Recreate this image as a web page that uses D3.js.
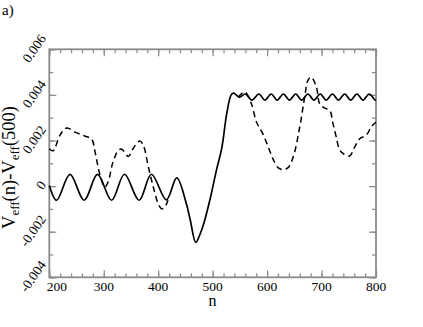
<!DOCTYPE html>
<html>
<head>
<meta charset="utf-8">
<script src="https://cdn.jsdelivr.net/npm/d3@7/dist/d3.min.js"></script>
<style>
body { margin: 0; background: #fff; }
svg { display: block; }
</style>
</head>
<body>
<div id="chart"></div>
<script>
// values
var solidN = [200, 213.5, 238, 264, 288.5, 314.5, 338, 365, 387.5, 415, 434, 452, 459, 469, 477, 483, 495, 507, 517, 526, 534,
    538.5, 549, 560, 572, 585, 596, 607.5, 618.5, 630, 641, 652.5, 663.5, 675, 686, 697.5, 708.5, 720, 731, 742.5, 753.5, 765, 776, 787.5, 798.5, 800];
var solidV = [0.00003, -0.00062, 0.00051, -0.00062, 0.00051, -0.00062, 0.00052, -0.00062, 0.00052, -0.0006, 0.00036, -0.0008, -0.0015, -0.00247, -0.0021, -0.0017, -0.0006, 0.0007, 0.0017, 0.0032, 0.004,
    0.00408, 0.0039, 0.00404, 0.00377, 0.00404, 0.00377, 0.00404, 0.00377, 0.00404, 0.00377, 0.00404, 0.00377, 0.00404, 0.00377, 0.00404, 0.00377, 0.00404, 0.00377, 0.00404, 0.00377, 0.00404, 0.00377, 0.00404, 0.00377, 0.00378];

var dashN = [200, 207, 220, 232, 247, 265, 278, 284, 293, 302, 308, 317, 327, 333, 345, 354, 366, 372.5, 382, 391, 400, 406, 412, 418,
    480,
    547, 559, 571, 580.5, 592, 602, 611, 620, 629, 638.5, 648, 660, 669, 675, 681, 690.5, 697, 706, 715, 721, 727, 733, 740, 751.5, 761, 770, 782, 791.5, 800];
var dashV = [0.00164, 0.00155, 0.00225, 0.00255, 0.00237, 0.0022, 0.00205, 0.0015, 0.0005, -0.00004, 0.00018, 0.00106, 0.00157, 0.00162, 0.0013, 0.00165, 0.00198, 0.0018, 0.00084, -0.00004, -0.00077, -0.00099, -0.00092, -0.00062,
    null,
    0.0039, 0.00413, 0.00362, 0.00281, 0.0023, 0.00172, 0.00118, 0.00081, 0.00072, 0.00081, 0.00128, 0.0026, 0.0039, 0.00464, 0.00478, 0.00435, 0.00358, 0.00342, 0.00332, 0.00274, 0.00215, 0.0016, 0.00142, 0.00132, 0.00172, 0.00208, 0.00223, 0.0026, 0.00281];

var xTicks = [200, 300, 400, 500, 600, 700, 800];
var yTicks = [-0.004, -0.002, 0, 0.002, 0.004, 0.006];
var yTickLabels = ["-0.004", "-0.002", "0", "0.002", "0.004", "0.006"];

var width = 423, height = 327;
var padL = 49.3, padR = 376, padT = 49.3, padB = 277.3;
var frameColor = "#8a8a8a";
var serif = "'Liberation Serif', 'DejaVu Serif', 'Times New Roman', serif";

var svg = d3.select("#chart").append("svg")
    .attr("width", width)
    .attr("height", height)
    .attr("font-family", serif);

var xScale = d3.scaleLinear().domain([200, 800]).range([padL, padR]);
var yScale = d3.scaleLinear().domain([-0.004, 0.006]).range([padB, padT]);

// ticks, inward on every side
function styleAxis(g) {
    g.select(".domain").remove();
    g.selectAll("line").attr("stroke", frameColor).attr("stroke-width", 1.2);
    g.selectAll("text").remove();
}
var minorX = d3.range(200, 801, 20), minorY = d3.range(-4, 6.1, 1).map(function (d) { return d / 1000; });

svg.append("g").attr("transform", "translate(0," + padB + ")")
    .call(d3.axisBottom(xScale).tickValues(minorX).tickSize(-4)).call(styleAxis);
svg.append("g").attr("transform", "translate(0," + padB + ")")
    .call(d3.axisBottom(xScale).tickValues(xTicks).tickSize(-7)).call(styleAxis);
svg.append("g").attr("transform", "translate(0," + padT + ")")
    .call(d3.axisTop(xScale).tickValues(minorX).tickSize(-4)).call(styleAxis);
svg.append("g").attr("transform", "translate(0," + padT + ")")
    .call(d3.axisTop(xScale).tickValues(xTicks).tickSize(-7)).call(styleAxis);
svg.append("g").attr("transform", "translate(" + padL + ",0)")
    .call(d3.axisLeft(yScale).tickValues(minorY).tickSize(-4)).call(styleAxis);
svg.append("g").attr("transform", "translate(" + padL + ",0)")
    .call(d3.axisLeft(yScale).tickValues(yTicks).tickSize(-7)).call(styleAxis);
svg.append("g").attr("transform", "translate(" + padR + ",0)")
    .call(d3.axisRight(yScale).tickValues(minorY).tickSize(-4)).call(styleAxis);
svg.append("g").attr("transform", "translate(" + padR + ",0)")
    .call(d3.axisRight(yScale).tickValues(yTicks).tickSize(-7)).call(styleAxis);

svg.append("rect")
    .attr("x", padL).attr("y", padT)
    .attr("width", padR - padL).attr("height", padB - padT)
    .attr("fill", "none")
    .attr("stroke", frameColor)
    .attr("stroke-width", 1.8);

// curves
var line = d3.line()
    .defined(function (d) { return d[1] !== null; })
    .x(function (d) { return xScale(d[0]); })
    .y(function (d) { return yScale(d[1]); })
    .curve(d3.curveCatmullRom.alpha(0.5));

var dashData = dashN.map(function (n, i) { return [n, dashV[i]]; });
var solidData = solidN.map(function (n, i) { return [n, solidV[i]]; });

svg.append("path").datum(dashData)
    .attr("d", line)
    .attr("fill", "none")
    .attr("stroke", "#000")
    .attr("stroke-width", 1.5)
    .attr("stroke-dasharray", "6,4");

svg.append("path").datum(solidData)
    .attr("d", line)
    .attr("fill", "none")
    .attr("stroke", "#000")
    .attr("stroke-width", 1.7);

// x tick labels
svg.selectAll(".xl").data(xTicks).enter().append("text")
    .attr("x", function (d, i) { return xScale(d) + (i === 0 ? 7.5 : 0); })
    .attr("y", 291)
    .attr("text-anchor", "middle")
    .attr("font-size", 13.5)
    .text(function (d) { return d; });

// y tick labels, slanted
var ang = 55 * Math.PI / 180;
svg.selectAll(".yl").data(yTicks).enter().append("text")
    .attr("text-anchor", "middle")
    .attr("dy", "0.35em")
    .attr("font-size", 13.5)
    .text(function (d, i) { return yTickLabels[i]; })
    .attr("transform", function (d) {
        var L = this.getComputedTextLength();
        var w = L * Math.cos(ang) + 9 * Math.sin(ang);
        return "translate(" + (46.5 - w / 2) + "," + (yScale(d) - 1) + ") rotate(-55)";
    });

// axis titles
svg.append("text")
    .attr("x", 212.5).attr("y", 305.5)
    .attr("text-anchor", "middle")
    .attr("font-size", 16)
    .text("n");

var yl = svg.append("text")
    .attr("transform", "translate(15,167.5) rotate(-90)")
    .attr("text-anchor", "middle")
    .attr("font-size", 18.5);
yl.append("tspan").text("V");
yl.append("tspan").attr("font-size", 13).attr("dy", 4).text("eff");
yl.append("tspan").attr("dy", -4).text("(n)-V");
yl.append("tspan").attr("font-size", 13).attr("dy", 4).text("eff");
yl.append("tspan").attr("dy", -4).text("(500)");

svg.append("text")
    .attr("x", 2).attr("y", 15)
    .attr("font-size", 15)
    .text("a)");
</script>
</body>
</html>
